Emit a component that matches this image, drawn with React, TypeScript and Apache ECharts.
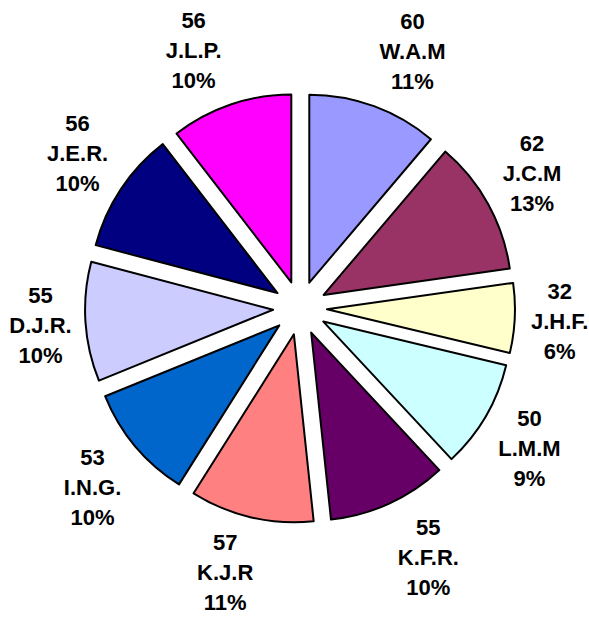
import React, { useEffect, useRef } from "react";
import * as echarts from "echarts";

const names = ["W.A.M", "J.C.M", "J.H.F.", "L.M.M", "K.F.R.", "K.J.R", "I.N.G.", "D.J.R.", "J.E.R.", "J.L.P."];
const values = [60, 62, 32, 50, 55, 57, 53, 55, 56, 56];
const percents = [11, 13, 6, 9, 10, 11, 10, 10, 10, 10];
const colors = ["#9999FF", "#993366", "#FFFFCC", "#CCFFFF", "#660066", "#FF8080", "#0066CC", "#CCCCFF", "#000080", "#FF00FF"];

export default function App() {
  const ref = useRef<HTMLDivElement>(null);
  useEffect(() => {
    const chart = echarts.init(ref.current!, null, { renderer: "svg" });
    const cx = 300, cy = 308, r = 188, off = 27, lr = 198, hx = 35, hy = 45;
    const total = values.reduce((a, b) => a + b, 0);
    const clamp = (v: number) => Math.max(-1, Math.min(1, v));
    let acc = 0;
    const labels = values.map((v, i) => {
      const mid = ((acc + v / 2) / total) * 2 * Math.PI;
      acc += v;
      const sx = Math.sin(mid), sy = -Math.cos(mid);
      const x = cx + (off + lr) * sx + hx * clamp(3 * sx);
      const y = cy + (off + lr) * sy + hy * clamp(1.2 * sy);
      return {
        type: "text",
        x,
        y,
        silent: true,
        style: {
          text: `${v}\n${names[i]}\n${percents[i]}%`,
          align: "center",
          verticalAlign: "middle",
          fontFamily: "'Liberation Sans', Arial, sans-serif",
          fontWeight: "bold",
          fontSize: 22,
          lineHeight: 30,
          fill: "#000",
        },
      };
    });
    chart.setOption({
      animation: false,
      backgroundColor: "#fff",
      series: [
        {
          type: "pie",
          center: [cx, cy],
          radius: r,
          startAngle: 90,
          clockwise: true,
          selectedMode: "multiple",
          selectedOffset: off,
          avoidLabelOverlap: false,
          label: { show: false },
          labelLine: { show: false },
          itemStyle: { borderColor: "#000", borderWidth: 2 },
          emphasis: { disabled: true },
          select: { itemStyle: { borderColor: "#000", borderWidth: 2 } },
          data: values.map((v, i) => ({
            value: v,
            name: names[i],
            selected: true,
            itemStyle: { color: colors[i] },
          })),
        },
      ],
      graphic: labels,
    });
    return () => chart.dispose();
  }, []);
  return (
    <div
      ref={ref}
      style={{ position: "fixed", left: 0, top: 0, width: 589, height: 618 }}
    />
  );
}
